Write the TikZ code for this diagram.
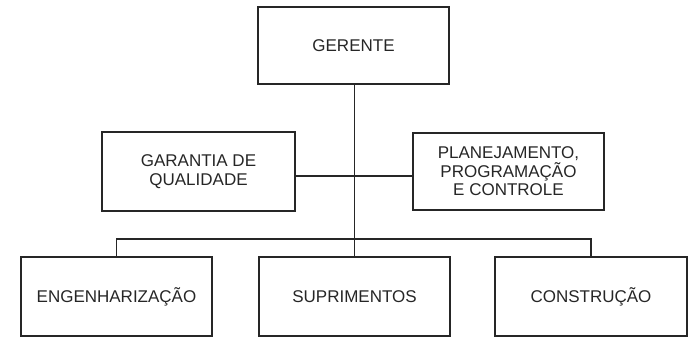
\documentclass[tikz,border=0pt]{standalone}
\usepackage{fontspec}
\setmainfont{Liberation Sans}
\begin{document}
\begin{tikzpicture}[x=1pt,y=-1pt,
  ink/.style={line width=1.4pt,draw=black!85},
  unit/.style={ink,rectangle,align=center,inner sep=0pt,
    font=\fontsize{17}{18.5}\selectfont,text=black!85}]
\useasboundingbox (0,0) rectangle (693,338);
\node[unit,minimum width=191pt,minimum height=77pt] (ger) at (353.5,45.5) {GERENTE};
\node[unit,minimum width=193pt,minimum height=79pt] (gq) at (198.5,171.5) {GARANTIA DE\\QUALIDADE};
\node[unit,minimum width=191pt,minimum height=77pt] (pc) at (508.5,171.5) {PLANEJAMENTO,\\PROGRAMAÇÃO\\E CONTROLE};
\node[unit,minimum width=191pt,minimum height=79pt] (eng) at (116.5,296.5) {ENGENHARIZAÇÃO};
\node[unit,minimum width=191pt,minimum height=79pt] (sup) at (354.5,296.5) {SUPRIMENTOS};
\node[unit,minimum width=192pt,minimum height=79pt] (con) at (591,296.5) {CONSTRUÇÃO};
\coordinate (mid) at (354.5,176);
\coordinate (bus) at (354.5,239);
\draw[ink] (ger.south -| sup.north) -- (sup.north);
\draw[ink] (gq.east |- mid) -- (pc.west |- mid);
\draw[ink] (eng.north) -- (eng.north |- bus) -- (con.north |- bus) -- (con.north);
\end{tikzpicture}
\end{document}
